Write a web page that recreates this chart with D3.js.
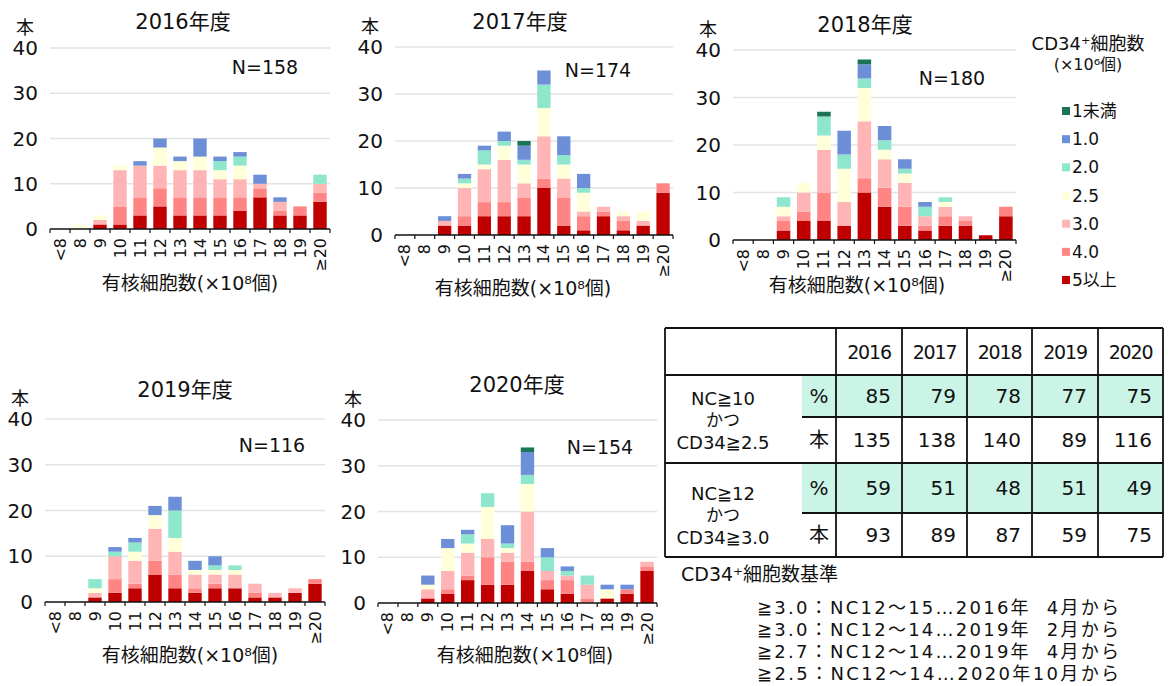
<!DOCTYPE html>
<html lang="ja">
<head>
<meta charset="UTF-8">
<title>有核細胞数とCD34+細胞数の分布</title>
<script src="https://d3js.org/d3.v7.min.js"></script>
<style>
  body { margin: 0; background: #fff; }
  svg text { font-family: "DejaVu Sans", "Noto Sans CJK JP", sans-serif; fill: #111; }
</style>
</head>
<body>
<div id="chart"></div>
<script>
// x categories (有核細胞数 ×10^8)
const categories = ["<8", "8", "9", "10", "11", "12", "13", "14", "15", "16", "17", "18", "19", "≥20"];
// CD34+ classes, stacked from bottom to top
const seriesKeys = ["5以上", "4.0", "3.0", "2.5", "2.0", "1.0", "1未満"];
const seriesColors = ["#c00000", "#ff8585", "#ffb5b5", "#ffffd9", "#8ee6cd", "#6d8fd8", "#1b7456"];

// counts per category: [5以上, 4.0, 3.0, 2.5, 2.0, 1.0, 1未満]
const counts2016 = [
  [0, 0, 0, 0, 0, 0, 0], [0, 0, 0, 1, 0, 0, 0], [1, 0, 1, 1, 0, 0, 0], [1, 4, 8, 1, 0, 0, 0],
  [3, 4, 7, 0, 0, 1, 0], [5, 4, 5, 4, 0, 2, 0], [3, 4, 6, 2, 0, 1, 0], [3, 4, 6, 3, 0, 4, 0],
  [3, 4, 4, 2, 2, 1, 0], [4, 3, 4, 3, 2, 1, 0], [7, 2, 1, 0, 0, 2, 0], [3, 1, 2, 0, 0, 1, 0],
  [3, 2, 0, 0, 0, 0, 0], [6, 2, 2, 0, 2, 0, 0]
];
const counts2017 = [
  [0, 0, 0, 0, 0, 0, 0], [0, 0, 0, 0, 0, 0, 0], [2, 0, 1, 0, 0, 1, 0], [2, 2, 6, 1, 1, 1, 0],
  [4, 3, 7, 1, 3, 1, 0], [4, 3, 9, 3, 1, 2, 0], [4, 4, 3, 4, 1, 3, 1], [10, 2, 9, 6, 5, 3, 0],
  [2, 6, 4, 3, 2, 4, 0], [1, 3, 1, 4, 1, 3, 0], [4, 1, 1, 0, 0, 0, 0], [1, 2, 1, 1, 0, 0, 0],
  [2, 0, 1, 2, 0, 0, 0], [9, 2, 0, 0, 0, 0, 0]
];
const counts2018 = [
  [0, 0, 0, 0, 0, 0, 0], [0, 0, 0, 0, 0, 0, 0], [2, 2, 1, 2, 2, 0, 0], [4, 2, 4, 2, 0, 0, 0],
  [4, 6, 9, 3, 4, 0, 1], [3, 0, 5, 7, 3, 5, 0], [10, 3, 12, 7, 2, 3, 1], [7, 4, 6, 2, 2, 3, 0],
  [3, 4, 5, 2, 1, 2, 0], [2, 1, 2, 0, 2, 1, 0], [3, 2, 2, 1, 1, 0, 0], [3, 1, 1, 0, 0, 0, 0],
  [1, 0, 0, 0, 0, 0, 0], [5, 2, 0, 0, 0, 0, 0]
];
const counts2019 = [
  [0, 0, 0, 0, 0, 0, 0], [0, 0, 0, 0, 0, 0, 0], [1, 0, 1, 1, 2, 0, 0], [2, 3, 5, 0, 1, 1, 0],
  [3, 1, 5, 2, 2, 1, 0], [6, 3, 7, 3, 0, 2, 0], [3, 3, 5, 3, 6, 3, 0], [2, 1, 3, 1, 0, 2, 0],
  [3, 1, 2, 1, 1, 2, 0], [3, 0, 3, 1, 1, 0, 0], [1, 1, 2, 0, 0, 0, 0], [1, 0, 1, 0, 0, 0, 0],
  [2, 0, 1, 0, 0, 0, 0], [4, 1, 0, 0, 0, 0, 0]
];
const counts2020 = [
  [0, 0, 0, 0, 0, 0, 0], [0, 0, 0, 0, 0, 0, 0], [1, 0, 2, 1, 0, 2, 0], [2, 1, 4, 5, 0, 2, 0],
  [5, 1, 5, 2, 2, 1, 0], [4, 6, 4, 7, 3, 0, 0], [4, 5, 2, 1, 1, 4, 0], [7, 2, 11, 6, 2, 5, 1],
  [3, 2, 2, 0, 3, 2, 0], [2, 3, 1, 0, 1, 1, 0], [0, 1, 3, 0, 2, 0, 0], [1, 0, 0, 2, 0, 1, 0],
  [2, 1, 0, 0, 0, 1, 0], [7, 1, 1, 0, 0, 0, 0]
];

const yTicks = [0, 10, 20, 30, 40];

// summary table
const tableYears = ["2016", "2017", "2018", "2019", "2020"];
const pctNC10 = [85, 79, 78, 77, 75];
const cntNC10 = [135, 138, 140, 89, 116];
const pctNC12 = [59, 51, 48, 51, 49];
const cntNC12 = [93, 89, 87, 59, 75];
const criteriaLines = [
  "≧3.0：NC12〜15…2016年  4月から",
  "≧3.0：NC12〜14…2019年  2月から",
  "≧2.7：NC12〜14…2019年  4月から",
  "≧2.5：NC12〜14…2020年10月から"
];

const width = 1168, height = 686;
const svg = d3.select("#chart").append("svg")
  .attr("width", width).attr("height", height)
  .attr("viewBox", [0, 0, width, height]);

// panel layouts
const panels = [
  { year: "2016年度", n: "N=158", data: counts2016, x0: 50, x1: 330, top: 48, base: 229, title: [183, 22], nPos: [265, 67], xl: [190, 283] },
  { year: "2017年度", n: "N=174", data: counts2017, x0: 395, x1: 673, top: 47, base: 235, title: [520, 22], nPos: [598, 70], xl: [523, 288] },
  { year: "2018年度", n: "N=180", data: counts2018, x0: 733, x1: 1016, top: 50, base: 240, title: [865, 25], nPos: [952, 78], xl: [857, 285] },
  { year: "2019年度", n: "N=116", data: counts2019, x0: 45, x1: 325, top: 419, base: 602, title: [185, 390], nPos: [272, 445], xl: [190, 655] },
  { year: "2020年度", n: "N=154", data: counts2020, x0: 378, x1: 657, top: 420, base: 603, title: [517, 385], nPos: [600, 447], xl: [525, 655] }
];

const stack = d3.stack().keys(d3.range(seriesKeys.length)).value((d, k) => d[k]);

function drawPanel(p) {
  const g = svg.append("g");
  const x = d3.scaleBand().domain(categories).range([p.x0, p.x1]).paddingInner(0.33).paddingOuter(0.165);
  const y = d3.scaleLinear().domain([0, 40]).range([p.base, p.top]);

  // gridlines
  g.append("g").selectAll("line")
    .data(yTicks.filter(t => t > 0))
    .join("line")
    .attr("x1", p.x0).attr("x2", p.x1)
    .attr("y1", d => y(d)).attr("y2", d => y(d))
    .attr("stroke", "#e3e3e3").attr("stroke-width", 1.5);

  // y tick labels
  g.append("g").selectAll("text")
    .data(yTicks)
    .join("text")
    .attr("x", p.x0 - 12).attr("y", d => y(d))
    .attr("text-anchor", "end").attr("dominant-baseline", "central")
    .attr("font-size", 20)
    .text(d => d);

  g.append("text")
    .attr("x", p.x0 - 25).attr("y", p.top - 21)
    .attr("text-anchor", "middle").attr("dominant-baseline", "central")
    .attr("font-size", 18).text("本");

  // stacked bars
  const layers = stack(p.data.map((row, i) => Object.assign(row.slice(), { cat: categories[i] })));
  g.append("g").selectAll("g")
    .data(layers)
    .join("g")
    .attr("fill", (d, i) => seriesColors[i])
    .selectAll("rect")
    .data(d => d.filter(s => s[1] > s[0]))
    .join("rect")
    .attr("x", d => x(d.data.cat))
    .attr("width", x.bandwidth())
    .attr("y", d => y(d[1]))
    .attr("height", d => y(d[0]) - y(d[1]));

  // baseline + ticks at band boundaries
  g.append("line")
    .attr("x1", p.x0).attr("x2", p.x1)
    .attr("y1", p.base).attr("y2", p.base)
    .attr("stroke", "#111").attr("stroke-width", 1.5);
  const step = x.step();
  g.append("g").selectAll("line")
    .data(d3.range(categories.length + 1))
    .join("line")
    .attr("x1", i => p.x0 + i * step).attr("x2", i => p.x0 + i * step)
    .attr("y1", p.base).attr("y2", p.base + 4)
    .attr("stroke", "#111").attr("stroke-width", 1.2);

  // rotated category labels
  g.append("g").selectAll("text")
    .data(categories)
    .join("text")
    .attr("transform", d => `translate(${x(d) + x.bandwidth() / 2},${p.base + 9}) rotate(-90)`)
    .attr("text-anchor", "end").attr("dominant-baseline", "central")
    .attr("font-size", 16)
    .text(d => d);

  g.append("text")
    .attr("x", p.title[0]).attr("y", p.title[1])
    .attr("text-anchor", "middle").attr("dominant-baseline", "central")
    .attr("font-size", 21).text(p.year);

  g.append("text")
    .attr("x", p.nPos[0]).attr("y", p.nPos[1])
    .attr("text-anchor", "middle").attr("dominant-baseline", "central")
    .attr("font-size", 19).text(p.n);

  g.append("text")
    .attr("x", p.xl[0]).attr("y", p.xl[1])
    .attr("text-anchor", "middle").attr("dominant-baseline", "central")
    .attr("font-size", 19).text("有核細胞数(×10⁸個)");
}

panels.forEach(drawPanel);

// legend (top item = 1未満)
const legend = svg.append("g");
legend.append("text").attr("x", 1088).attr("y", 43)
  .attr("text-anchor", "middle").attr("dominant-baseline", "central")
  .attr("font-size", 18).text("CD34⁺細胞数");
legend.append("text").attr("x", 1088).attr("y", 64)
  .attr("text-anchor", "middle").attr("dominant-baseline", "central")
  .attr("font-size", 16).text("(×10⁶個)");
const legendOrder = d3.range(seriesKeys.length).reverse();
const ly = d3.scalePoint().domain(legendOrder).range([111, 280]);
const li = legend.selectAll("g.item")
  .data(legendOrder)
  .join("g").attr("class", "item")
  .attr("transform", i => `translate(1062,${ly(i)})`);
li.append("rect").attr("x", 0).attr("y", -4).attr("width", 8).attr("height", 8)
  .attr("fill", i => seriesColors[i]);
li.append("text").attr("x", 10).attr("y", 0)
  .attr("dominant-baseline", "central").attr("font-size", 17)
  .text(i => seriesKeys[i]);

// table
const colX = [665, 802, 836, 902, 967, 1032, 1098, 1163];
const rowY = [328, 375, 417, 463, 513, 557];
const tbl = svg.append("g");
[1, 3].forEach(r => {
  tbl.append("rect")
    .attr("x", colX[1]).attr("y", rowY[r])
    .attr("width", colX[7] - colX[1]).attr("height", rowY[r + 1] - rowY[r])
    .attr("fill", "#c9f4e6");
});
const hLines = [
  [colX[0], colX[7], rowY[0]], [colX[0], colX[7], rowY[1]], [colX[1], colX[7], rowY[2]],
  [colX[0], colX[7], rowY[3]], [colX[1], colX[7], rowY[4]], [colX[0], colX[7], rowY[5]]
];
tbl.selectAll("line.h").data(hLines).join("line").attr("class", "h")
  .attr("x1", d => d[0]).attr("x2", d => d[1]).attr("y1", d => d[2]).attr("y2", d => d[2])
  .attr("stroke", "#111").attr("stroke-width", 1.8);
const vLines = [colX[0], colX[2], colX[3], colX[4], colX[5], colX[6], colX[7]];
tbl.selectAll("line.v").data(vLines).join("line").attr("class", "v")
  .attr("x1", d => d).attr("x2", d => d).attr("y1", rowY[0]).attr("y2", rowY[5])
  .attr("stroke", "#111").attr("stroke-width", 1.8);

tbl.selectAll("text.yr").data(tableYears).join("text").attr("class", "yr")
  .attr("x", (d, i) => (colX[i + 2] + colX[i + 3]) / 2).attr("y", (rowY[0] + rowY[1]) / 2)
  .attr("text-anchor", "middle").attr("dominant-baseline", "central")
  .attr("font-size", 19).attr("letter-spacing", -1.2).text(d => d);

[[pctNC10, 1, "%"], [cntNC10, 2, "本"], [pctNC12, 3, "%"], [cntNC12, 4, "本"]].forEach(([vals, r, unit]) => {
  const cy = (rowY[r] + rowY[r + 1]) / 2;
  tbl.append("text").attr("x", (colX[1] + colX[2]) / 2).attr("y", cy)
    .attr("text-anchor", "middle").attr("dominant-baseline", "central")
    .attr("font-size", 20).text(unit);
  tbl.append("g").selectAll("text").data(vals).join("text")
    .attr("x", (d, i) => colX[i + 3] - 11).attr("y", cy)
    .attr("text-anchor", "end").attr("dominant-baseline", "central")
    .attr("font-size", 20).text(d => d);
});

[[["NC≧10", "かつ", "CD34≧2.5"], [398, 420, 442]], [["NC≧12", "かつ", "CD34≧3.0"], [493, 515, 537]]]
  .forEach(([lines, ys]) => {
    tbl.append("g").selectAll("text").data(lines).join("text")
      .attr("x", 723).attr("y", (d, i) => ys[i])
      .attr("text-anchor", "middle").attr("dominant-baseline", "central")
      .attr("font-size", (d, i) => i === 1 ? 17 : 18).text(d => d);
  });

// criteria note
svg.append("text").attr("x", 681).attr("y", 574)
  .attr("dominant-baseline", "central").attr("font-size", 19)
  .text("CD34⁺細胞数基準");
svg.append("g").selectAll("text").data(criteriaLines).join("text")
  .attr("x", 757).attr("y", (d, i) => 607 + i * 22)
  .attr("dominant-baseline", "central").attr("font-size", 18)
  .attr("xml:space", "preserve")
  .attr("textLength", 362).attr("lengthAdjust", "spacing")
  .text(d => d);
</script>
</body>
</html>
